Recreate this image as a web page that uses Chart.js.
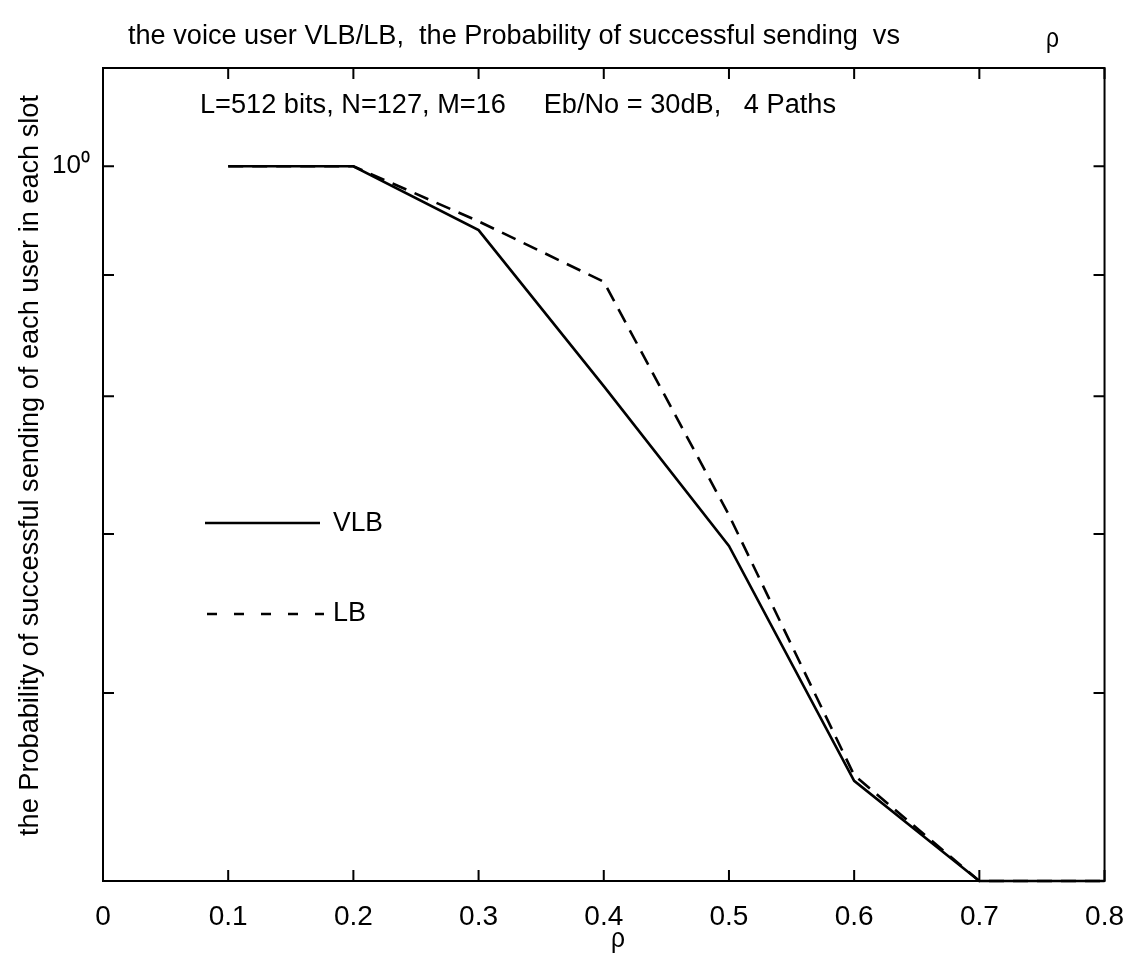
<!DOCTYPE html>
<html>
<head>
<meta charset="utf-8">
<script src="https://cdn.jsdelivr.net/npm/chart.js@4.4.1/dist/chart.umd.min.js"></script>
<style>
  html, body { margin: 0; padding: 0; background: #fff; }
  #wrap { width: 1143px; height: 965px; position: relative; }
</style>
</head>
<body>
<div id="wrap"><canvas id="probChart"></canvas></div>
<script>
// valores
const rho = [0.1, 0.2, 0.3, 0.4, 0.5, 0.6, 0.7, 0.8];
const vlbValues = [1, 1, 0.940, 0.808, 0.692, 0.551, 0.5, 0.5];
const lbValues = [1, 1, 0.948, 0.894, 0.713, 0.554, 0.5, 0.5];
const xTicks = [0, 0.1, 0.2, 0.3, 0.4, 0.5, 0.6, 0.7, 0.8];
const yTicks = [0.6, 0.7, 0.8, 0.9, 1];

const FONT = '"Liberation Sans", Arial, Helvetica, sans-serif';

function toPoints(values) {
    return rho.map((r, i) => ({ x: r, y: values[i] }));
}

// escribe texto ajustado a un ancho dado (x = borde izquierdo)
function fitText(ctx, text, x, y, width, size) {
    ctx.save();
    ctx.font = size + 'px ' + FONT;
    const w = ctx.measureText(text).width;
    ctx.translate(x, y);
    ctx.scale(width / w, 1);
    ctx.textAlign = 'left';
    ctx.fillText(text, 0, 0);
    ctx.restore();
}

// caja, marcas hacia dentro y textos
const frameAndText = {
    id: 'frameAndText',
    afterDraw(chart) {
        const ctx = chart.ctx;
        const a = chart.chartArea;
        const xs = chart.scales.x;
        const ys = chart.scales.y;
        const tl = 11;
        ctx.save();
        ctx.strokeStyle = '#000';
        ctx.fillStyle = '#000';
        ctx.lineWidth = 2;
        ctx.strokeRect(a.left, a.top, a.right - a.left, a.bottom - a.top);

        ctx.beginPath();
        xTicks.forEach(v => {
            const px = xs.getPixelForValue(v);
            ctx.moveTo(px, a.bottom); ctx.lineTo(px, a.bottom - tl);
            ctx.moveTo(px, a.top); ctx.lineTo(px, a.top + tl);
        });
        yTicks.forEach(v => {
            const py = ys.getPixelForValue(v);
            ctx.moveTo(a.left, py); ctx.lineTo(a.left + tl, py);
            ctx.moveTo(a.right, py); ctx.lineTo(a.right - tl, py);
        });
        ctx.stroke();

        ctx.textBaseline = 'middle';
        fitText(ctx, 'the voice user VLB/LB,  the Probability of successful sending  vs', 128, 37, 772, 27);
        fitText(ctx, '\u03c1', 1046, 40, 13, 27);
        fitText(ctx, 'L=512 bits, N=127, M=16     Eb/No = 30dB,   4 Paths', 200, 106, 636, 27);

        // leyenda
        ctx.lineWidth = 2.5;
        ctx.beginPath();
        ctx.moveTo(205, 523); ctx.lineTo(320, 523);
        ctx.stroke();
        ctx.setLineDash([10, 17]);
        ctx.beginPath();
        ctx.moveTo(207, 614); ctx.lineTo(324, 614);
        ctx.stroke();
        ctx.setLineDash([]);
        fitText(ctx, 'VLB', 333, 524, 50, 27);
        fitText(ctx, 'LB', 333, 614, 33, 27);

        // titulos de ejes
        fitText(ctx, '\u03c1', 611, 940, 14, 27);
        ctx.save();
        ctx.translate(31, 466);
        ctx.rotate(-Math.PI / 2);
        fitText(ctx, 'the Probability of successful sending of each user in each slot', -370, 0, 741, 27);
        ctx.restore();
        ctx.restore();
    }
};

const ctx = document.getElementById('probChart').getContext('2d');
const myChart = new Chart(ctx, {
    type: 'line',
    data: {
        datasets: [
            {
                label: 'VLB',
                data: toPoints(vlbValues),
                borderColor: '#000',
                borderWidth: 2.6,
                pointRadius: 0,
                tension: 0,
                fill: false,
                clip: false
            },
            {
                label: 'LB',
                data: toPoints(lbValues),
                borderColor: '#000',
                borderWidth: 2.6,
                borderDash: [15, 9],
                pointRadius: 0,
                tension: 0,
                fill: false,
                clip: false
            }
        ]
    },
    options: {
        responsive: true,
        maintainAspectRatio: false,
        animation: false,
        layout: { padding: { top: 68, right: 28, bottom: 0, left: 0 } },
        plugins: { legend: { display: false }, tooltip: { enabled: false } },
        scales: {
            x: {
                type: 'linear',
                min: 0,
                max: 0.8,
                afterFit: s => { s.height = 84; },
                afterBuildTicks: s => { s.ticks = xTicks.map(v => ({ value: v })); },
                grid: { display: false, drawTicks: false },
                border: { display: false },
                ticks: {
                    color: '#000',
                    padding: 19,
                    font: { size: 28, family: FONT },
                    maxRotation: 0,
                    callback: v => String(+v.toFixed(1))
                }
            },
            y: {
                type: 'logarithmic',
                min: 0.5,
                max: 1.1,
                afterFit: s => { s.width = 103; },
                afterBuildTicks: s => { s.ticks = yTicks.map(v => ({ value: v })); },
                grid: { display: false, drawTicks: false },
                border: { display: false },
                ticks: {
                    color: '#000',
                    padding: 13,
                    font: { size: 26, family: FONT },
                    callback: v => (v === 1 ? '10\u2070' : '')
                }
            }
        }
    },
    plugins: [frameAndText]
});
</script>
</body>
</html>
